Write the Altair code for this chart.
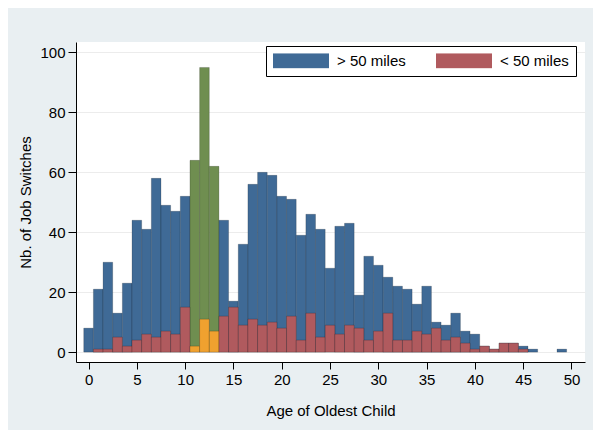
import altair as alt
import pandas as pd

ages = list(range(50))
over_50 = [8, 21, 30, 13, 23, 44, 41, 58, 49, 47,
           52, 64, 95, 62, 44, 17, 36, 56, 60, 59,
           52, 51, 39, 46, 41, 28, 42, 43, 19, 32,
           29, 25, 22, 21, 16, 22, 10, 9, 13, 7,
           6, 2, 1, 3, 3, 2, 1, 0, 0, 1]
under_50 = [0, 1, 1, 5, 2, 4, 6, 5, 7, 6,
            15, 2, 11, 7, 12, 15, 9, 11, 9, 10,
            8, 12, 4, 13, 5, 9, 6, 9, 8, 4,
            7, 13, 4, 4, 7, 6, 8, 4, 5, 3,
            1, 2, 1, 3, 3, 1, 0, 0, 0, 0]
series = ["> 50 miles", "< 50 miles"]
highlight_ages = [11, 12, 13]
x_ticks = list(range(0, 51, 5))
y_ticks = list(range(0, 101, 20))

BLUE, RED, GREEN, ORANGE = "#3f6a96", "#b05a5e", "#6f8e50", "#f0a12f"
FONT = "Liberation Sans"

rows = []
for s_idx, vals in enumerate([over_50, under_50]):
    for a, v in zip(ages, vals):
        if v > 0:
            rows.append({"age": a, "lo": a - 0.5, "hi": a + 0.5, "count": v,
                         "series": series[s_idx], "s": s_idx,
                         "hl": 1 if a in highlight_ages else 0})
df = pd.DataFrame(rows)

legend = alt.Legend(
    orient="none", legendX=190, legendY=4, direction="horizontal", columns=2,
    title=None, symbolType="M-1,-0.268L1,-0.268L1,0.268L-1,0.268Z",
    symbolSize=3136, clipHeight=15, symbolStrokeWidth=0, symbolOpacity=1,
    labelOffset=8, columnPadding=30, padding=7,
    fillColor="white", strokeColor="black",
    labelFont=FONT, labelFontSize=15, labelColor="black",
)

chart = alt.Chart(df).mark_rect(
    stroke="black", strokeOpacity=0.3, strokeWidth=0.6
).encode(
    x=alt.X("lo:Q", scale=alt.Scale(domain=[-1.3, 51.4], nice=False, zero=False),
            axis=alt.Axis(title="Age of Oldest Child", values=x_ticks, grid=False,
                          tickSize=7, labelPadding=3, titleY=48, titleBaseline="middle")),
    x2="hi:Q",
    y=alt.Y("count:Q", scale=alt.Scale(domain=[-3.3, 103.5], nice=False, zero=False),
            axis=alt.Axis(title="Nb. of Job Switches", values=y_ticks, grid=True,
                          gridColor="#ececec", tickSize=8, labelPadding=3,
                          titleX=-51, titleY=160, titleAngle=270,
                          titleAlign="center", titleBaseline="middle")),
    y2=alt.datum(0),
    color=alt.Color("series:N", scale=alt.Scale(domain=series, range=[BLUE, RED]),
                    legend=legend,
                    condition=[
                        {"test": "datum.hl == 1 && datum.s == 0", "value": GREEN},
                        {"test": "datum.hl == 1 && datum.s == 1", "value": ORANGE},
                    ]),
).properties(
    width=509, height=320,
    autosize=alt.AutoSizeParams(type="none"),
    padding={"left": 68, "top": 34, "right": 8, "bottom": 68},
    background="#e9eff2",
).configure_view(
    fill="white", stroke=None
).configure_axis(
    labelFont=FONT, labelFontSize=15, labelColor="black",
    titleFont=FONT, titleFontSize=15, titleColor="black", titleFontWeight="normal",
    domainColor="black", tickColor="black", domainWidth=1, tickWidth=1,
)

chart.save("out.html", embed_options={"renderer": "svg", "actions": False})
